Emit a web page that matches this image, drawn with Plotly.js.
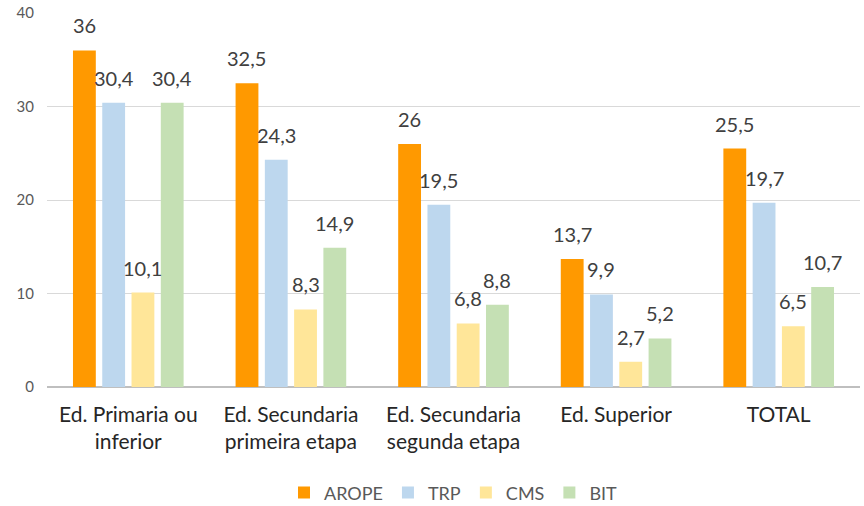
<!DOCTYPE html>
<html>
<head>
<meta charset="utf-8">
<script src="https://cdn.plot.ly/plotly-3.0.1.min.js"></script>
<style>
  body { margin: 0; background: #fff; }
  #chart { width: 864px; height: 506px; }
</style>
</head>
<body>
<div id="chart"></div>
<script>
const categories = [
  "Ed. Primaria ou<br>inferior",
  "Ed. Secundaria<br>primeira etapa",
  "Ed. Secundaria<br>segunda etapa",
  "Ed. Superior",
  "TOTAL"
];
const seriesNames = ["AROPE", "TRP", "CMS", "BIT"];
const arope = [36, 32.5, 26, 13.7, 25.5];
const trp = [30.4, 24.3, 19.5, 9.9, 19.7];
const cms = [10.1, 8.3, 6.8, 2.7, 6.5];
const bit = [30.4, 14.9, 8.8, 5.2, 10.7];

const colors = ["#FF9900", "#BDD7EE", "#FFE699", "#C5E0B4"];
const allValues = [arope, trp, cms, bit];

// horizontal offset of each bar from its category centre, in px
const slot = 29.3;
const offsets = [-1.5, -0.5, 0.5, 1.5].map(k => k * slot);

const fmt = v => String(v).replace(".", ",");
const fontFam = "Lato, 'Open Sans', sans-serif";

const traces = allValues.map((vals, i) => ({
  type: "bar",
  name: seriesNames[i],
  x: categories,
  y: vals,
  marker: { color: colors[i] },
  hoverinfo: "none"
}));

const annotations = [];
allValues.forEach((vals, i) => {
  vals.forEach((v, j) => {
    annotations.push({
      x: categories[j],
      y: v,
      text: fmt(v),
      showarrow: false,
      xanchor: "center",
      yanchor: "bottom",
      xshift: offsets[i],
      yshift: 11,
      font: { family: fontFam, size: 20, color: "#404040" }
    });
  });
});

const layout = {
  width: 864,
  height: 506,
  margin: { l: 47, r: 4, t: 13, b: 119, autoexpand: false },
  paper_bgcolor: "#fff",
  plot_bgcolor: "#fff",
  barmode: "group",
  bargap: 0.28,
  bargroupgap: 0.22,
  font: { family: fontFam, color: "#404040" },
  xaxis: {
    type: "category",
    automargin: false,
    tickfont: { size: 21, color: "#262626" },
    showgrid: false,
    showline: false,
    ticks: "",
    ticklabelstandoff: 13
  },
  yaxis: {
    range: [0, 40],
    automargin: false,
    tickvals: [0, 10, 20, 30, 40],
    tickfont: { size: 15, color: "#595959" },
    gridcolor: "#D9D9D9",
    zeroline: true,
    zerolinecolor: "#BFBFBF",
    zerolinewidth: 1.5,
    showline: false,
    ticks: "",
    ticklabelstandoff: 12
  },
  showlegend: true,
  legend: {
    orientation: "h",
    x: 0.5,
    xanchor: "center",
    y: -0.283,
    yanchor: "middle",
    font: { size: 18, color: "#595959" },
    itemwidth: 30
  },
  annotations: annotations
};

Plotly.newPlot("chart", traces, layout, { displayModeBar: false, staticPlot: true });
</script>
</body>
</html>
